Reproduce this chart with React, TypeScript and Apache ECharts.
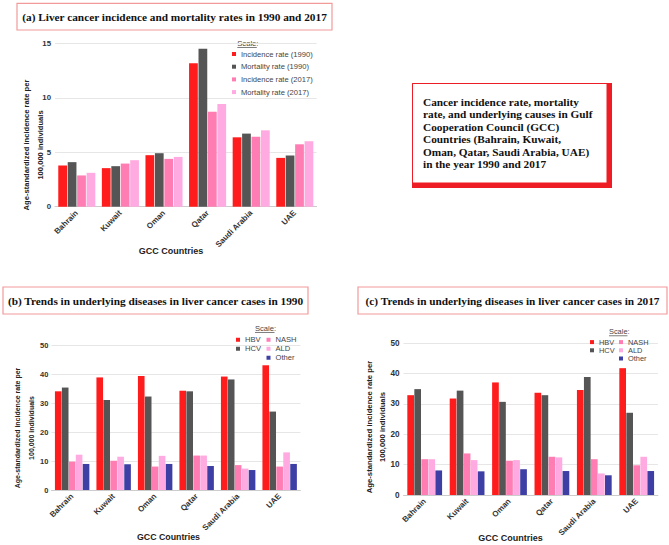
import React, { useEffect, useRef } from "react";
import * as echarts from "echarts";

const countries = ["Bahrain", "Kuwait", "Oman", "Qatar", "Saudi Arabia", "UAE"];

const rateNames = ["Incidence rate (1990)", "Mortality rate (1990)", "Incidence rate (2017)", "Mortality rate (2017)"];
const incidence1990 = [3.78, 3.54, 4.73, 13.17, 6.37, 4.48];
const mortality1990 = [4.09, 3.72, 4.91, 14.5, 6.71, 4.7];
const incidence2017 = [2.87, 3.96, 4.39, 8.72, 6.43, 5.73];
const mortality2017 = [3.11, 4.27, 4.57, 9.42, 7.01, 6.01];

const causeNames = ["HBV", "HCV", "NASH", "ALD", "Other"];
const hbv1990 = [34.1, 38.9, 39.4, 34.3, 39.2, 43.1];
const hcv1990 = [35.4, 31.1, 32.3, 34.1, 38.2, 27.1];
const nash1990 = [9.8, 10.1, 8.1, 11.9, 8.6, 8.1];
const ald1990 = [12.2, 11.5, 11.8, 11.9, 7.4, 13.0];
const other1990 = [9.0, 8.9, 9.0, 8.3, 6.9, 9.0];
const hbv2017 = [32.9, 31.8, 37.1, 33.7, 34.6, 41.8];
const hcv2017 = [34.9, 34.4, 30.7, 32.9, 38.9, 27.1];
const nash2017 = [11.8, 13.7, 11.3, 12.6, 11.8, 9.8];
const ald2017 = [11.8, 11.5, 11.5, 12.4, 7.1, 12.6];
const other2017 = [8.1, 7.8, 8.5, 7.9, 6.5, 7.9];

const rateAxis = { min: 0, max: 15, interval: 5 };
const causeAxis = { min: 0, max: 50, interval: 10 };

const titleA = "(a) Liver cancer incidence and mortality rates in 1990 and 2017";
const titleB = "(b) Trends in underlying diseases in liver cancer cases in 1990";
const titleC = "(c) Trends in underlying diseases in liver cancer cases in 2017";
const boxLines = [
  "Cancer incidence rate, mortality",
  "rate, and underlying causes in Gulf",
  "Cooperation Council (GCC)",
  "Countries (Bahrain, Kuwait,",
  "Oman, Qatar, Saudi Arabia, UAE)",
  "in the year 1990 and 2017",
];
const yName = "Age-standardized incidence rate per\n100,000 individuals";
const xName = "GCC Countries";

const rateColors = ["#ff1c1c", "#555555", "#ff7db3", "#ffaae0"];
const causeColors = ["#ff1c1c", "#555555", "#ff7db3", "#ffaae0", "#3e3fa5"];

const SANS = '"Liberation Sans", Arial, sans-serif';
const SERIF = '"Liberation Serif", "Times New Roman", serif';

export default function App() {
  const ref = useRef<HTMLDivElement>(null);
  useEffect(() => {
    if (!ref.current) return;
    const chart = echarts.init(ref.current, undefined, { renderer: "svg" });

    const xAxisBase = (gridIndex: number, fs: number) => ({
      type: "category",
      gridIndex,
      data: countries,
      axisTick: { show: false },
      axisLine: { lineStyle: { color: "#cccccc" } },
      axisLabel: {
        interval: 0,
        rotate: 45,
        margin: 5,
        fontSize: fs,
        fontWeight: "bold",
        fontFamily: SANS,
        color: "#333",
      },
    });
    const yAxisBase = (gridIndex: number, range: any, fs: number, margin: number) => ({
      type: "value",
      gridIndex,
      ...range,
      axisLine: { show: false },
      axisTick: { show: false },
      splitLine: { lineStyle: { color: "#e6e6e6" } },
      axisLabel: { fontSize: fs, fontWeight: "bold", fontFamily: SANS, color: "#333", margin },
    });

    const rateData = [incidence1990, mortality1990, incidence2017, mortality2017];
    const c1990 = [hbv1990, hcv1990, nash1990, ald1990, other1990];
    const c2017 = [hbv2017, hcv2017, nash2017, ald2017, other2017];

    const series: any[] = [];
    rateData.forEach((d, i) =>
      series.push({
        type: "bar",
        name: rateNames[i],
        xAxisIndex: 0,
        yAxisIndex: 0,
        data: d,
        barGap: "8%",
        barCategoryGap: "15%",
        itemStyle: { color: rateColors[i] },
      })
    );
    c1990.forEach((d, i) =>
      series.push({
        type: "bar",
        name: causeNames[i],
        xAxisIndex: 1,
        yAxisIndex: 1,
        data: d,
        barGap: "5%",
        barCategoryGap: "17%",
        itemStyle: { color: causeColors[i] },
      })
    );
    c2017.forEach((d, i) =>
      series.push({
        type: "bar",
        name: causeNames[i],
        xAxisIndex: 2,
        yAxisIndex: 2,
        data: d,
        barGap: "5%",
        barCategoryGap: "18%",
        itemStyle: { color: causeColors[i] },
      })
    );

    const legendBase = (data: string[], left: number, top: number, fs: number, lh: number, gap: number, iw: number) => ({
      data,
      orient: "vertical",
      left,
      top,
      icon: "rect",
      itemWidth: iw,
      itemHeight: iw,
      itemGap: gap,
      padding: 0,
      textStyle: { fontSize: fs, fontFamily: SANS, color: "#444", lineHeight: lh },
    });

    const titleBox = (x: number, y: number, w: number, h: number, text: string) => [
      {
        type: "rect",
        shape: { x, y, width: w, height: h },
        style: { fill: "#fff", stroke: "#f29a9a", lineWidth: 1.2 },
        z: 10,
      },
      {
        type: "text",
        x: x + w / 2,
        y: y + h / 2,
        style: {
          text,
          fontFamily: SERIF,
          fontWeight: "bold",
          fontSize: 11.3,
          fill: "#111",
          align: "center",
          verticalAlign: "middle",
        },
        z: 11,
      },
    ];

    const yLabel = (x: number, y: number, fs: number, lh: number) => ({
      type: "text",
      x,
      y,
      rotation: Math.PI / 2,
      style: {
        text: yName,
        fontFamily: SANS,
        fontWeight: "bold",
        fontSize: fs,
        lineHeight: lh,
        fill: "#222",
        align: "center",
        verticalAlign: "middle",
      },
    });
    const xLabel = (x: number, y: number, fs: number) => ({
      type: "text",
      x,
      y,
      style: {
        text: xName,
        fontFamily: SANS,
        fontWeight: "bold",
        fontSize: fs,
        fill: "#222",
        align: "center",
        verticalAlign: "middle",
      },
    });
    const scaleHead = (x: number, y: number, fs: number, w: number) => [
      {
        type: "text",
        x,
        y,
        style: {
          text: "Scale:",
          fontFamily: SANS,
          fontSize: fs,
          fill: "#444",
          align: "left",
          verticalAlign: "middle",
        },
      },
      {
        type: "line",
        shape: { x1: x, y1: y + fs * 0.55, x2: x + w, y2: y + fs * 0.55 },
        style: { stroke: "#444", lineWidth: 0.7 },
      },
    ];

    const option: any = {
      animation: false,
      backgroundColor: "#ffffff",
      grid: [
        { left: 55, top: 43.3, width: 261.6, height: 163.4 },
        { left: 51.4, top: 345.3, width: 249, height: 144.7 },
        { left: 403.5, top: 343.3, width: 254.4, height: 151.7 },
      ],
      xAxis: [xAxisBase(0, 8), xAxisBase(1, 8), xAxisBase(2, 8)],
      yAxis: [
        yAxisBase(0, rateAxis, 7.8, 4),
        yAxisBase(1, causeAxis, 7.5, 3),
        yAxisBase(2, causeAxis, 8.2, 4),
      ],
      legend: [
        legendBase(rateNames, 232, 49, 7.6, 10, 2.7, 4),
        legendBase(causeNames.slice(0, 2), 236, 335.5, 7.6, 8.5, 0.5, 4),
        legendBase(causeNames.slice(2), 266.5, 335.5, 7.6, 8.5, 0.5, 4),
        legendBase(causeNames.slice(0, 2), 590, 338, 7.4, 8.2, 0, 4),
        legendBase(causeNames.slice(2), 619, 338, 7.4, 8.2, 0, 4),
      ],
      graphic: [
        ...titleBox(17, 3.3, 315, 26.7, titleA),
        ...titleBox(3, 287, 305, 27, titleB),
        ...titleBox(358, 287, 309, 27, titleC),
        {
          type: "rect",
          shape: { x: 412, y: 83, width: 200, height: 105 },
          style: { fill: "#ee1c25" },
          z: 10,
        },
        {
          type: "rect",
          shape: { x: 412.5, y: 83.5, width: 194.5, height: 99.5 },
          style: { fill: "#fff", stroke: "#ee1c25", lineWidth: 1 },
          z: 11,
        },
        {
          type: "text",
          x: 423,
          y: 95.5,
          style: {
            text: boxLines.join("\n"),
            fontFamily: SERIF,
            fontWeight: "bold",
            fontSize: 11.3,
            lineHeight: 12.5,
            fill: "#111",
            align: "left",
            verticalAlign: "top",
          },
          z: 12,
        },
        yLabel(33.7, 145, 7.6, 13.5),
        yLabel(24.5, 428, 7, 14.4),
        yLabel(376, 427, 7.7, 12.3),
        xLabel(171, 251, 9),
        xLabel(168.5, 537, 8.8),
        xLabel(510.5, 538, 9),
        ...scaleHead(237.3, 43.3, 7.6, 19.5),
        ...scaleHead(255, 328.3, 7.6, 19.5),
        ...scaleHead(609, 331.7, 7.4, 18.5),
      ],
      series,
    };
    chart.setOption(option);
    return () => chart.dispose();
  }, []);
  return (
    <div
      ref={ref}
      style={{ position: "absolute", left: 0, top: 0, width: 669, height: 545 }}
    />
  );
}
